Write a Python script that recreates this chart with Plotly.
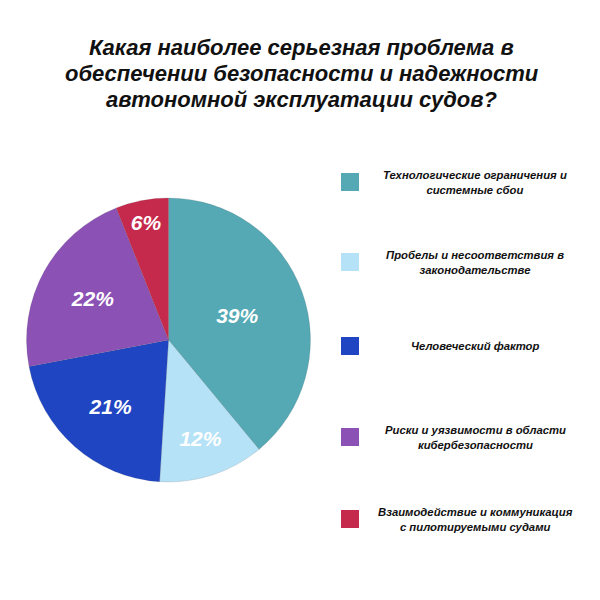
import plotly.graph_objects as go

categories = [
    "Технологические ограничения и<br>системные сбои",
    "Пробелы и несоответствия в<br>законодательстве",
    "Человеческий фактор",
    "Риски и уязвимости в области<br>кибербезопасности",
    "Взаимодействие и коммуникация<br>с пилотируемыми судами",
]
values = [39, 12, 21, 22, 6]
colors = ["#54a9b4", "#b5e2f6", "#1f45c3", "#8b51b5", "#c5294c"]
legend_y = [182, 262, 346, 437, 519]  # pixel centres of legend rows

title_lines = [
    "Какая наиболее серьезная проблема в",
    "обеспечении безопасности и надежности",
    "автономной эксплуатации судов?",
]
title_y = [47, 73, 100]

FONT = "Liberation Sans, Arial, sans-serif"
W = H = 600

fig = go.Figure()
fig.add_trace(go.Pie(
    values=values,
    labels=[c.replace("<br>", " ") for c in categories],
    sort=False,
    direction="clockwise",
    rotation=0,
    marker=dict(colors=colors, line=dict(color="rgba(80,80,80,0.25)", width=0.6)),
    texttemplate="<b><i>%{value}%</i></b>",
    textposition="inside",
    insidetextorientation="horizontal",
    textfont=dict(family=FONT, size=21, color="white"),
    domain=dict(x=[26.5 / W, 310.5 / W], y=[1 - 482 / H, 1 - 198 / H]),
    showlegend=False,
    hoverinfo="skip",
))

shapes = []
annotations = []
for line, py in zip(title_lines, title_y):
    annotations.append(dict(
        text="<b><i>" + line + "</i></b>",
        x=0.503, y=1 - py / H, xref="paper", yref="paper",
        xanchor="center", yanchor="middle", showarrow=False,
        font=dict(family=FONT, size=22, color="#111111"),
    ))
for cat, col, py in zip(categories, colors, legend_y):
    shapes.append(dict(
        type="rect", xref="paper", yref="paper",
        x0=341 / W, x1=359 / W, y0=1 - (py + 9) / H, y1=1 - (py - 9) / H,
        fillcolor=col, line=dict(width=0),
    ))
    annotations.append(dict(
        text="<b><i>" + cat + "</i></b>",
        x=475 / W, y=1 - py / H, xref="paper", yref="paper",
        xanchor="center", yanchor="middle", align="center", showarrow=False,
        font=dict(family=FONT, size=11.3, color="#111111"),
    ))

fig.update_layout(
    width=W, height=H,
    margin=dict(l=0, r=0, t=0, b=0),
    paper_bgcolor="white", plot_bgcolor="white",
    shapes=shapes, annotations=annotations,
)
fig.write_html("out.html")
